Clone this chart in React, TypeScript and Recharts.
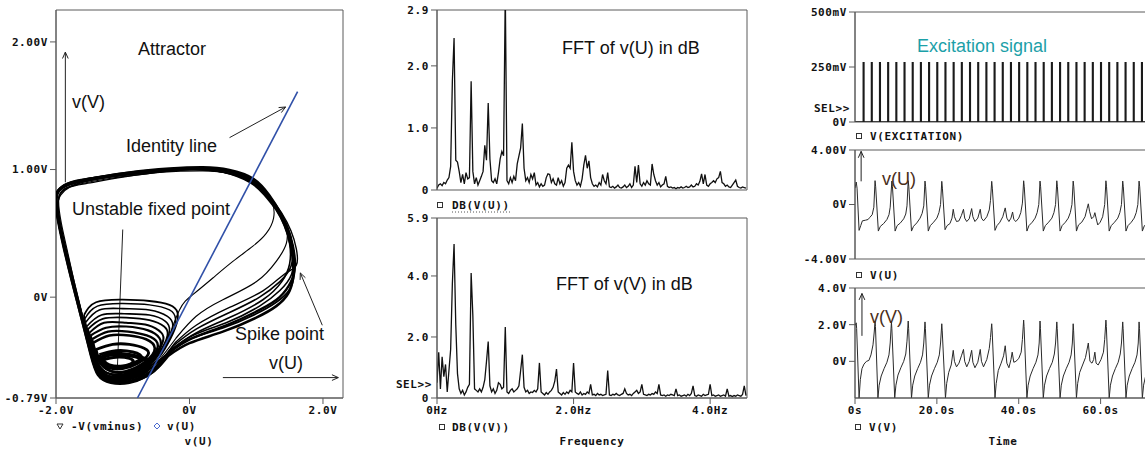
import React from "react";
import {
  ScatterChart, Scatter, LineChart, Line, XAxis, YAxis, ReferenceArea, ReferenceLine,
} from "recharts";

// ---------- attractor (phase portrait) ----------
const attrXTicks = [-2, 0, 2];
const attrXLabels = ["-2.0V", "0V", "2.0V"];
const attrYTicks = [-0.79, 0, 1, 2];
const attrYLabels = ["-0.79V", "0V", "1.00V", "2.00V"];

// spiking orbits (big loops)
const spikeLoopA = [[-0.3,-0.44],[0.0,-0.33],[0.5,-0.24],[1.0,-0.13],[1.3,-0.04],[1.5,0.06],[1.57,0.18],[1.57,0.3],[1.5,0.5],[1.37,0.66],[1.2,0.8],[0.96,0.93],[0.6,1.0],[0.2,1.02],[-0.3,1.01],[-0.9,0.98],[-1.5,0.93],[-1.83,0.89],[-1.97,0.84],[-2.0,0.76],[-1.95,0.55],[-1.83,0.3],[-1.68,0.0],[-1.52,-0.32],[-1.4,-0.56],[-1.3,-0.64],[-1.1,-0.66],[-0.84,-0.66],[-0.6,-0.61],[-0.45,-0.54],[-0.3,-0.44]];
const spikeLoopB = [[-0.25,-0.4],[0.1,-0.28],[0.6,-0.16],[1.1,-0.02],[1.38,0.12],[1.5,0.26],[1.5,0.42],[1.42,0.56],[1.3,0.68],[1.12,0.8],[0.9,0.9],[0.5,0.98],[0.1,1.0],[-0.5,0.98],[-1.1,0.95],[-1.6,0.9],[-1.85,0.85],[-1.96,0.78],[-1.95,0.62],[-1.85,0.38],[-1.72,0.1],[-1.58,-0.2],[-1.45,-0.48],[-1.35,-0.6],[-1.15,-0.64],[-0.9,-0.64],[-0.65,-0.58],[-0.45,-0.5],[-0.25,-0.4]];
const spikeLoopC = [[-0.2,-0.32],[0.1,-0.15],[0.5,-0.02],[1.0,0.12],[1.3,0.28],[1.45,0.42],[1.45,0.55],[1.35,0.66],[1.18,0.78],[0.95,0.89],[0.6,0.97],[0.2,0.99],[-0.4,0.98],[-1.0,0.94],[-1.55,0.89],[-1.8,0.86],[-1.93,0.8],[-1.97,0.7],[-1.9,0.48],[-1.78,0.2],[-1.64,-0.1],[-1.5,-0.4],[-1.4,-0.58],[-1.25,-0.64],[-1.0,-0.65],[-0.75,-0.62],[-0.5,-0.52],[-0.2,-0.32]];
const spikeLoopD = [[-0.28,-0.42],[0.05,-0.3],[0.55,-0.2],[1.05,-0.07],[1.35,0.05],[1.53,0.18],[1.56,0.35],[1.48,0.52],[1.35,0.66],[1.15,0.8],[0.92,0.91],[0.55,0.99],[0.0,1.01],[-0.7,0.98],[-1.3,0.94],[-1.75,0.9],[-1.94,0.85],[-2.0,0.78],[-1.97,0.62],[-1.87,0.38],[-1.75,0.12],[-1.6,-0.18],[-1.47,-0.45],[-1.36,-0.6],[-1.2,-0.65],[-0.95,-0.65],[-0.7,-0.6],[-0.5,-0.52],[-0.28,-0.42]];
const spikeLoopE = [[-0.22,-0.36],[0.1,-0.22],[0.6,-0.08],[1.1,0.05],[1.42,0.18],[1.6,0.25],[1.6,0.38],[1.52,0.52],[1.38,0.66],[1.2,0.79],[0.96,0.91],[0.6,0.99],[0.2,1.01],[-0.4,1.0],[-1.0,0.96],[-1.6,0.91],[-1.9,0.86],[-1.99,0.8],[-1.98,0.66],[-1.9,0.45],[-1.78,0.18],[-1.63,-0.12],[-1.5,-0.38],[-1.38,-0.58],[-1.22,-0.66],[-0.95,-0.67],[-0.7,-0.63],[-0.48,-0.53],[-0.22,-0.36]];
const spikeLoopF = [[-0.35,-0.38],[-0.15,-0.1],[0.05,0.02],[0.35,0.15],[0.65,0.28],[0.95,0.4],[1.15,0.5],[1.26,0.62],[1.24,0.74],[1.12,0.83],[0.9,0.92],[0.5,0.98],[0.0,1.0],[-0.6,0.97],[-1.2,0.93],[-1.7,0.88],[-1.9,0.84],[-1.96,0.76],[-1.92,0.58],[-1.82,0.34],[-1.7,0.06],[-1.56,-0.24],[-1.44,-0.5],[-1.32,-0.62],[-1.1,-0.65],[-0.8,-0.63],[-0.55,-0.54],[-0.35,-0.38]];
const spikeLoopG = [[-0.32,-0.46],[0.0,-0.36],[0.5,-0.27],[1.0,-0.16],[1.3,-0.07],[1.48,0.03],[1.55,0.15],[1.55,0.28],[1.49,0.47],[1.36,0.64],[1.19,0.79],[0.95,0.92],[0.58,0.99],[0.15,1.01],[-0.5,0.99],[-1.2,0.95],[-1.7,0.91],[-1.92,0.86],[-2.0,0.8],[-1.99,0.68],[-1.9,0.44],[-1.77,0.15],[-1.62,-0.16],[-1.48,-0.45],[-1.37,-0.61],[-1.18,-0.67],[-0.9,-0.67],[-0.65,-0.62],[-0.47,-0.55],[-0.32,-0.46]];
const spikeLoopH = [[-0.24,-0.38],[0.1,-0.25],[0.6,-0.12],[1.05,0.0],[1.35,0.12],[1.52,0.24],[1.54,0.4],[1.46,0.55],[1.33,0.67],[1.14,0.8],[0.9,0.91],[0.5,0.98],[0.0,1.0],[-0.6,0.98],[-1.2,0.94],[-1.65,0.9],[-1.88,0.86],[-1.98,0.79],[-1.96,0.64],[-1.88,0.42],[-1.76,0.14],[-1.61,-0.15],[-1.48,-0.43],[-1.37,-0.6],[-1.2,-0.66],[-0.95,-0.66],[-0.7,-0.62],[-0.48,-0.53],[-0.24,-0.38]];
const spikeLoopI = [[-0.3,-0.43],[0.05,-0.32],[0.55,-0.22],[1.05,-0.1],[1.35,0.0],[1.52,0.12],[1.58,0.25],[1.55,0.4],[1.47,0.54],[1.34,0.67],[1.16,0.8],[0.93,0.91],[0.55,0.99],[0.1,1.01],[-0.6,0.99],[-1.25,0.95],[-1.72,0.9],[-1.93,0.85],[-2.0,0.78],[-1.98,0.63],[-1.89,0.4],[-1.76,0.12],[-1.61,-0.18],[-1.47,-0.46],[-1.36,-0.61],[-1.19,-0.66],[-0.92,-0.66],[-0.67,-0.61],[-0.48,-0.54],[-0.3,-0.43]];

// subthreshold loops round the unstable fixed point
const smallLoop1 = [[-1.58,-0.14],[-1.4,-0.04],[-1.0,-0.02],[-0.6,-0.03],[-0.3,-0.06],[-0.18,-0.12],[-0.2,-0.22],[-0.32,-0.36],[-0.5,-0.5],[-0.75,-0.6],[-1.05,-0.65],[-1.3,-0.62],[-1.45,-0.45],[-1.55,-0.25],[-1.58,-0.14]];
const smallLoop2 = [[-1.56,-0.2],[-1.35,-0.1],[-1.0,-0.09],[-0.6,-0.1],[-0.33,-0.15],[-0.25,-0.22],[-0.32,-0.33],[-0.5,-0.47],[-0.75,-0.58],[-1.05,-0.63],[-1.3,-0.6],[-1.45,-0.44],[-1.56,-0.2]];
const smallLoop3 = [[-1.52,-0.25],[-1.3,-0.17],[-0.95,-0.16],[-0.6,-0.18],[-0.38,-0.23],[-0.33,-0.3],[-0.45,-0.43],[-0.7,-0.56],[-1.0,-0.62],[-1.28,-0.6],[-1.42,-0.46],[-1.52,-0.25]];
const smallLoop4 = [[-1.48,-0.3],[-1.25,-0.24],[-0.95,-0.23],[-0.62,-0.26],[-0.45,-0.32],[-0.45,-0.4],[-0.65,-0.53],[-0.95,-0.6],[-1.25,-0.59],[-1.4,-0.48],[-1.48,-0.3]];
const smallLoop5 = [[-1.45,-0.36],[-1.2,-0.3],[-0.9,-0.3],[-0.65,-0.33],[-0.52,-0.4],[-0.65,-0.5],[-0.95,-0.58],[-1.22,-0.57],[-1.38,-0.48],[-1.45,-0.36]];
const smallLoop6 = [[-1.4,-0.41],[-1.15,-0.37],[-0.9,-0.37],[-0.68,-0.4],[-0.62,-0.45],[-0.78,-0.52],[-1.0,-0.56],[-1.22,-0.55],[-1.35,-0.49],[-1.4,-0.41]];
const smallLoop7 = [[-1.35,-0.45],[-1.1,-0.42],[-0.85,-0.43],[-0.72,-0.47],[-0.85,-0.52],[-1.05,-0.55],[-1.25,-0.53],[-1.35,-0.45]];
const smallLoop8 = [[-1.3,-0.49],[-1.1,-0.47],[-0.9,-0.48],[-0.85,-0.51],[-1.0,-0.54],[-1.2,-0.53],[-1.3,-0.49]];
const smallLoop9 = [[-1.57,-0.17],[-1.38,-0.07],[-1.0,-0.05],[-0.6,-0.06],[-0.3,-0.1],[-0.21,-0.17],[-0.26,-0.28],[-0.42,-0.42],[-0.62,-0.55],[-0.9,-0.63],[-1.2,-0.64],[-1.4,-0.54],[-1.52,-0.32],[-1.57,-0.17]];
const smallLoop10 = [[-1.54,-0.23],[-1.32,-0.14],[-0.98,-0.13],[-0.6,-0.14],[-0.36,-0.19],[-0.3,-0.26],[-0.38,-0.38],[-0.6,-0.52],[-0.9,-0.61],[-1.2,-0.62],[-1.4,-0.52],[-1.54,-0.23]];
const smallLoop11 = [[-1.5,-0.28],[-1.28,-0.2],[-0.95,-0.2],[-0.62,-0.22],[-0.42,-0.28],[-0.4,-0.35],[-0.55,-0.48],[-0.85,-0.59],[-1.15,-0.61],[-1.38,-0.52],[-1.5,-0.28]];
const smallLoop12 = [[-1.46,-0.33],[-1.22,-0.27],[-0.92,-0.27],[-0.64,-0.3],[-0.48,-0.36],[-0.55,-0.46],[-0.82,-0.57],[-1.1,-0.59],[-1.33,-0.52],[-1.46,-0.33]];
const smallLoop13 = [[-1.42,-0.5],[-1.2,-0.45],[-0.95,-0.45],[-0.7,-0.48],[-0.6,-0.53],[-0.75,-0.6],[-1.0,-0.63],[-1.25,-0.62],[-1.42,-0.5]];

const identityLine = [[-0.78,-0.79],[1.62,1.61]];

// annotation arrows (data units)
const arrowVV = [[-1.86, 0.9], [-1.86, 1.92]];
const arrowVU = [[0.5, -0.63], [2.23, -0.63]];
const arrowIdentity = [[0.6, 1.25], [1.44, 1.49]];
const arrowFixed = [[-1.0, 0.53], [-1.08, -0.55]];
const arrowSpike = [[1.99, -0.22], [1.66, 0.19]];

// ---------- FFT spectra ----------
const FREQ_STEP = 0.025;
const freqTicks = [0, 2, 4];
const freqLabels = ["0Hz", "2.0Hz", "4.0Hz"];
const fftUTicks = [0, 1, 2, 2.9];
const fftULabels = ["0", "1.0", "2.0", "2.9"];
const fftVTicks = [0, 2, 4, 5.9];
const fftVLabels = ["0", "2.0", "4.0", "5.9"];

const fftU = [
  0.03,0.08,0.1,0.07,0.12,0.1,0.16,0.2,0.38,1.75, 2.45,0.48,0.45,0.3,0.12,0.25,0.1,0.28,0.18,0.2,
  1.75,0.3,0.1,0.2,0.08,0.15,0.22,0.3,0.72,0.48, 1.4,0.5,0.15,0.12,0.18,0.1,0.28,0.5,0.62,0.55,
  3.2,0.15,0.1,0.2,0.12,0.22,0.15,0.42,0.55,0.68, 1.07,0.35,0.15,0.2,0.12,0.25,0.18,0.28,0.08,0.12,
  0.05,0.1,0.06,0.08,0.2,0.26,0.25,0.12,0.18,0.1, 0.08,0.2,0.1,0.15,0.06,0.12,0.35,0.4,0.35,0.77,
  0.3,0.15,0.08,0.12,0.06,0.18,0.4,0.56,0.35,0.47, 0.2,0.1,0.06,0.08,0.05,0.12,0.08,0.25,0.15,0.1,
  0.28,0.05,0.04,0.06,0.03,0.05,0.08,0.04,0.03,0.05, 0.08,0.04,0.06,0.1,0.04,0.08,0.38,0.12,0.4,0.1,
  0.06,0.12,0.08,0.15,0.1,0.08,0.42,0.25,0.15,0.08, 0.12,0.05,0.08,0.1,0.22,0.06,0.04,0.05,0.03,0.04,
  0.02,0.04,0.03,0.05,0.03,0.04,0.06,0.04,0.05,0.08, 0.05,0.06,0.1,0.08,0.14,0.26,0.1,0.25,0.08,0.06,
  0.1,0.12,0.15,0.12,0.18,0.2,0.3,0.12,0.1,0.06, 0.08,0.05,0.04,0.08,0.12,0.16,0.06,0.04,0.03,0.05,
  0.04,0.03,
];

const fftV = [
  0.5,1.5,0.3,1.35,0.7,1.1,0.2,0.9,1.6,3.75, 5.05,2.4,0.8,0.3,0.15,0.25,0.1,0.2,0.35,0.45,
  4.1,2.7,0.3,0.25,0.2,0.3,0.2,0.35,0.6,1.2, 1.85,0.4,0.2,0.3,0.15,0.25,0.5,0.45,0.3,0.35,
  2.33,0.2,0.15,0.25,0.3,0.2,0.25,0.3,0.4,0.9, 1.42,0.35,0.2,0.25,0.15,0.2,0.18,0.25,0.2,0.3,
  1.15,0.2,0.15,0.1,0.18,0.12,0.2,0.25,0.35,0.55, 0.95,0.2,0.15,0.1,0.18,0.12,0.2,0.15,0.25,0.2,
  1.15,0.2,0.15,0.12,0.2,0.1,0.15,0.12,0.2,0.15, 0.45,0.1,0.12,0.08,0.15,0.1,0.12,0.08,0.1,0.12,
  0.9,0.1,0.08,0.12,0.1,0.15,0.1,0.08,0.12,0.15, 0.3,0.15,0.1,0.12,0.08,0.15,0.2,0.25,0.15,0.2,
  0.45,0.12,0.1,0.08,0.12,0.1,0.15,0.12,0.2,0.15, 0.45,0.1,0.08,0.1,0.06,0.1,0.08,0.12,0.1,0.08,
  0.3,0.08,0.1,0.06,0.08,0.1,0.06,0.12,0.08,0.15, 0.4,0.08,0.06,0.1,0.08,0.06,0.12,0.08,0.1,0.12,
  0.45,0.08,0.1,0.06,0.08,0.1,0.06,0.08,0.1,0.06, 0.3,0.06,0.08,0.05,0.08,0.06,0.1,0.08,0.06,0.12,
  0.4,0.08,
];

// ---------- time series ----------
const timeTicks = [0, 20, 40, 60];
const timeLabels = ["0s", "20.0s", "40.0s", "60.0s"];
const excTicks = [0, 0.25, 0.5];
const excLabels = ["0V", "250mV", "500mV"];
const vUTicks = [-4, 0, 4];
const vULabels = ["-4.00V", "0V", "4.00V"];
const vVTicks = [0, 2, 4];
const vVLabels = ["0V", "2.0V", "4.0V"];

const pulseTimes = [2,4,6,8,10,12,14,16,18,20,22,24,26,28,30,32,34,36,38,40,42,44,46,48,50,52,54,56,58,60,62,64,66,68,70];
const PULSE_HIGH = 0.27;
const PULSE_WIDTH = 0.2;

const vUPoints = [
  [0,1.2],[0.3,1.65],[0.5,1.2],[1.0,-1.9],[1.4,-1.55],[1.8,-1.2],[2.6,-1.15],[3.2,-1.1],[3.6,-0.95],[4.2,-0.75],[4.6,-0.2],[4.9,1.75],[5.05,1.3],[5.7,-1.95],
  [6.2,-1.6],[7.0,-1.4],[7.8,-1.1],[8.3,-0.75],[8.6,-0.2],[9.0,1.72],[9.15,1.3],[9.8,-1.95],
  [10.3,-1.55],[11.1,-1.35],[11.9,-1.05],[12.4,-0.7],[12.7,-0.1],[13.0,1.75],[13.15,1.3],[13.8,-1.95],
  [14.3,-1.6],[15.1,-1.35],[15.9,-1.0],[16.4,-0.65],[16.8,-0.1],[17.1,1.72],[17.25,1.3],[17.9,-1.95],
  [18.4,-1.55],[19.2,-1.3],[20.0,-1.0],[20.5,-0.6],[20.9,0.0],[21.2,1.7],[21.35,1.2],[22.0,-1.85],
  [22.5,-1.55],[23.2,-1.4],[23.7,-1.0],[24.0,-0.35],[24.3,-0.9],[24.8,-1.25],[25.4,-1.2],[26.0,-0.8],[26.5,-0.35],[26.8,-1.0],[27.3,-1.25],[27.9,-1.05],[28.5,-0.3],[28.8,-0.9],[29.3,-1.25],[30.0,-1.0],[30.6,-0.35],[30.9,-1.0],[31.4,-1.2],[32.2,-0.9],[32.8,-0.4],[33.1,0.3],[33.4,1.7],[33.55,1.2],[34.2,-1.9],
  [34.7,-1.55],[35.4,-1.3],[36.1,-0.9],[36.7,-0.25],[37.1,-1.0],[37.6,-1.25],[38.1,-1.0],[38.5,-0.55],[38.8,-1.1],[39.3,-1.25],[40.0,-1.0],[40.5,-0.6],[40.9,0.1],[41.2,1.74],[41.35,1.3],[42.0,-1.95],
  [42.5,-1.55],[43.3,-1.3],[44.0,-1.0],[44.5,-0.6],[44.9,0.0],[45.2,1.72],[45.35,1.3],[46.0,-1.95],
  [46.5,-1.55],[47.3,-1.3],[48.1,-1.0],[48.6,-0.6],[49.0,0.0],[49.3,1.74],[49.45,1.3],[50.1,-1.95],
  [50.6,-1.55],[51.4,-1.3],[52.1,-1.0],[52.6,-0.6],[53.0,0.0],[53.3,1.72],[53.45,1.3],[54.1,-1.95],
  [54.6,-1.5],[55.4,-1.3],[56.2,-0.9],[56.7,-0.3],[57.0,0.05],[57.3,-0.5],[57.8,-1.05],[58.3,-0.9],[58.6,-0.6],[58.9,-1.0],[59.3,-1.5],[59.9,-1.3],[60.5,-0.9],[61.0,0.0],[61.3,1.74],[61.45,1.3],[62.1,-1.95],
  [62.6,-1.55],[63.4,-1.3],[64.2,-1.0],[64.7,-0.6],[65.1,0.0],[65.4,1.72],[65.55,1.3],[66.2,-1.95],
  [66.7,-1.55],[67.5,-1.3],[68.2,-1.0],[68.7,-0.6],[69.1,0.0],[69.4,1.72],[69.55,1.3],[70.2,-1.95],
  [70.7,-1.55],[71.5,-1.35],[72.3,-1.1],
];

const vVPoints = [
  [0,1.95],[0.3,2.1],[0.4,1.8],[1.0,-2.0],[1.3,-1.0],[1.7,-0.4],[2.2,-0.15],[2.8,0.0],[3.4,0.05],[3.9,0.35],[4.4,0.9],[4.7,1.6],[4.9,2.2],[5.0,1.9],[5.6,-2.0],
  [5.9,-1.3],[6.4,-0.8],[7.1,-0.4],[7.8,-0.05],[8.3,0.35],[8.6,1.0],[8.9,2.15],[9.0,1.8],[9.7,-2.0],
  [10.0,-1.3],[10.5,-0.75],[11.2,-0.35],[11.9,0.0],[12.4,0.4],[12.7,1.1],[13.0,2.2],[13.1,1.8],[13.8,-2.0],
  [14.1,-1.3],[14.6,-0.8],[15.3,-0.4],[16.0,-0.05],[16.5,0.35],[16.8,1.0],[17.1,2.15],[17.2,1.8],[17.9,-2.0],
  [18.2,-1.3],[18.7,-0.8],[19.4,-0.4],[20.1,-0.05],[20.6,0.35],[20.9,1.0],[21.2,2.05],[21.3,1.7],[22.1,-2.0],
  [22.4,-1.2],[22.9,-0.6],[23.5,-0.2],[24.0,0.6],[24.3,0.0],[24.8,-0.3],[25.4,-0.1],[26.0,0.3],[26.5,0.65],[26.8,0.0],[27.3,-0.3],[27.9,0.0],[28.5,0.6],[28.8,-0.05],[29.3,-0.35],[30.0,-0.05],[30.6,0.65],[30.9,0.0],[31.4,-0.3],[32.2,0.1],[32.8,0.7],[33.1,1.3],[33.4,2.05],[33.5,1.7],[34.2,-2.0],
  [34.5,-1.2],[35.0,-0.5],[35.7,-0.1],[36.3,0.3],[36.7,0.85],[37.1,-0.1],[37.6,-0.35],[38.1,0.1],[38.4,0.5],[38.8,-0.05],[39.3,0.0],[40.0,0.15],[40.6,0.5],[40.9,1.2],[41.2,2.25],[41.3,1.9],[42.0,-2.0],
  [42.3,-1.3],[42.8,-0.8],[43.5,-0.4],[44.2,-0.05],[44.7,0.35],[45.0,1.0],[45.2,2.2],[45.3,1.8],[46.0,-2.0],
  [46.3,-1.3],[46.8,-0.8],[47.5,-0.4],[48.2,-0.05],[48.7,0.4],[49.0,1.0],[49.3,2.15],[49.4,1.8],[50.1,-2.0],
  [50.4,-1.3],[50.9,-0.8],[51.6,-0.4],[52.3,-0.05],[52.8,0.35],[53.1,1.0],[53.3,2.05],[53.4,1.7],[54.1,-2.0],
  [54.4,-1.2],[54.9,-0.6],[55.6,-0.2],[56.3,0.2],[57.0,1.0],[57.4,0.0],[57.9,-0.1],[58.3,0.1],[58.6,0.5],[58.9,-0.1],[59.4,-0.2],[60.1,0.1],[60.7,0.5],[61.0,1.2],[61.3,2.25],[61.4,1.9],[62.1,-2.0],
  [62.4,-1.3],[62.9,-0.8],[63.6,-0.4],[64.3,-0.05],[64.8,0.4],[65.1,1.0],[65.4,2.15],[65.5,1.8],[66.2,-2.0],
  [66.5,-1.3],[67.0,-0.8],[67.7,-0.4],[68.4,-0.05],[68.9,0.35],[69.2,1.0],[69.4,2.15],[69.5,1.8],[70.2,-2.0],
  [70.5,-1.3],[71.0,-0.8],[71.7,-0.45],[72.4,-0.15],
];

const arrowPanelU = [[1.5, 1.7], [1.5, 3.9]];
const arrowPanelV = [[1.7, 1.39], [1.7, 3.7]];

// ---------- helpers ----------
const MONO = "'DejaVu Sans Mono', monospace";
const SANS = "'Liberation Sans', Arial, sans-serif";
const tickStyle = { fontFamily: MONO, fontSize: 11, fontWeight: 700, fill: "#111", letterSpacing: 0.6 };
const frame = "#5a5a5a";

const toXY = (pts: number[][]) => pts.map(([x, y]) => ({ x, y }));
const fmt = (ticks: number[], labels: string[]) => (v: number) => {
  const i = ticks.indexOf(v);
  return i >= 0 ? labels[i] : "";
};
const seg = (pts: number[][]) => pts.map(([x, y]) => ({ x, y }));
const EmptyShape = () => <g />;

const arrowShape = (head: boolean) => (p: any) => {
  const { x1, y1, x2, y2 } = p;
  if (x1 == null) return <g />;
  const a = Math.atan2(y2 - y1, x2 - x1);
  const L = 7;
  const w = 0.42;
  const h1x = x2 - L * Math.cos(a - w), h1y = y2 - L * Math.sin(a - w);
  const h2x = x2 - L * Math.cos(a + w), h2y = y2 - L * Math.sin(a + w);
  return (
    <g>
      <line x1={x1} y1={y1} x2={x2} y2={y2} stroke="#222" strokeWidth={1} />
      {head && <path d={`M${h1x},${h1y} L${x2},${y2} L${h2x},${h2y}`} fill="none" stroke="#222" strokeWidth={1} />}
    </g>
  );
};

const spikeLoops = [spikeLoopA, spikeLoopB, spikeLoopC, spikeLoopD, spikeLoopE, spikeLoopF, spikeLoopG, spikeLoopH, spikeLoopI];
const spikeWidths = [1.8, 1.6, 1.2, 1.6, 1.4, 1.1, 2.6, 1.6, 2.4];
const smallLoops = [smallLoop1, smallLoop9, smallLoop2, smallLoop10, smallLoop3, smallLoop11, smallLoop4, smallLoop12, smallLoop5, smallLoop6, smallLoop7, smallLoop8, smallLoop13];
const smallWidths = [1.8, 1.4, 1.6, 1.6, 1.8, 2.0, 2.2, 2.4, 2.6, 2.8, 3.0, 3.0, 4.5];

const fftUData = fftU.map((v, i) => ({ f: i * FREQ_STEP, v }));
const fftVData = fftV.map((v, i) => ({ f: i * FREQ_STEP, v }));
const excData = [
  { t: 0, v: 0 },
  ...pulseTimes.flatMap((p) => [
    { t: p, v: 0 }, { t: p, v: PULSE_HIGH }, { t: p + PULSE_WIDTH, v: PULSE_HIGH }, { t: p + PULSE_WIDTH, v: 0 },
  ]),
  { t: 75, v: 0 },
];
const vUData = vUPoints.map(([t, v]) => ({ t, v }));
const vVData = vVPoints.map(([t, v]) => ({ t, v }));

const T_DOMAIN: [number, number] = [0, 75];

const Square = ({ x, y }: { x: number; y: number }) => (
  <rect x={x - 2.5} y={y - 2.5} width={5} height={5} fill="none" stroke="#333" strokeWidth={1} />
);

const Attractor = () => (
  <ScatterChart width={380} height={450} margin={{ top: 10, right: 37, bottom: 32, left: 6 }}>
    <XAxis type="number" dataKey="x" domain={[-2, 2.3]} ticks={attrXTicks} tickFormatter={fmt(attrXTicks, attrXLabels)}
      allowDataOverflow height={20} tick={tickStyle} tickSize={6} axisLine={{ stroke: frame }} tickLine={{ stroke: frame }} />
    <YAxis type="number" dataKey="y" domain={[-0.79, 2.25]} ticks={attrYTicks} tickFormatter={fmt(attrYTicks, attrYLabels)}
      allowDataOverflow width={50} tick={tickStyle} tickSize={6} axisLine={{ stroke: frame }} tickLine={{ stroke: frame }} />
    <ReferenceArea x1={-2} x2={2.3} y1={-0.79} y2={2.25} fill="none" stroke={frame} strokeWidth={1} ifOverflow="visible" />
    {spikeLoops.map((l, i) => (
      <Scatter key={`s${i}`} data={toXY(l)} line={{ stroke: "#000", strokeWidth: spikeWidths[i] }}
        lineJointType="natural" shape={EmptyShape} isAnimationActive={false} />
    ))}
    {smallLoops.map((l, i) => (
      <Scatter key={`m${i}`} data={toXY(l)} line={{ stroke: "#000", strokeWidth: smallWidths[i] }}
        lineJointType="natural" shape={EmptyShape} isAnimationActive={false} />
    ))}
    <Scatter data={toXY(identityLine)} line={{ stroke: "#3050a8", strokeWidth: 1.6 }} shape={EmptyShape} isAnimationActive={false} />
    <ReferenceLine segment={seg(arrowVV)} ifOverflow="visible" shape={arrowShape(true)} />
    <ReferenceLine segment={seg(arrowVU)} ifOverflow="visible" shape={arrowShape(true)} />
    <ReferenceLine segment={seg(arrowIdentity)} ifOverflow="visible" shape={arrowShape(true)} />
    <ReferenceLine segment={seg(arrowFixed)} ifOverflow="visible" shape={arrowShape(false)} />
    <ReferenceLine segment={seg(arrowSpike)} ifOverflow="visible" shape={arrowShape(true)} />
  </ScatterChart>
);

const FftTop = () => (
  <LineChart width={380} height={220} data={fftUData} margin={{ top: 10, right: 13, bottom: 30, left: 12 }}>
    <XAxis type="number" dataKey="f" domain={[0, 4.54]} allowDataOverflow hide />
    <YAxis type="number" domain={[0, 2.9]} ticks={fftUTicks} tickFormatter={fmt(fftUTicks, fftULabels)} allowDataOverflow
      width={45} tick={tickStyle} tickSize={6} axisLine={{ stroke: frame }} tickLine={{ stroke: frame }} />
    <ReferenceArea x1={0} x2={4.54} y1={0} y2={2.9} fill="none" stroke={frame} ifOverflow="visible" />
    <Line type="linear" dataKey="v" stroke="#111" strokeWidth={1.3} dot={false} isAnimationActive={false} />
  </LineChart>
);

const FftBottom = () => (
  <LineChart width={380} height={250} data={fftVData} margin={{ top: 18, right: 13, bottom: 32, left: 12 }}>
    <XAxis type="number" dataKey="f" domain={[0, 4.54]} ticks={freqTicks} tickFormatter={fmt(freqTicks, freqLabels)} allowDataOverflow
      height={20} tick={tickStyle} tickSize={6} axisLine={{ stroke: frame }} tickLine={{ stroke: frame }} />
    <YAxis type="number" domain={[0, 5.9]} ticks={fftVTicks} tickFormatter={fmt(fftVTicks, fftVLabels)} allowDataOverflow
      width={45} tick={tickStyle} tickSize={6} axisLine={{ stroke: frame }} tickLine={{ stroke: frame }} />
    <ReferenceArea x1={0} x2={4.54} y1={0} y2={5.9} fill="none" stroke={frame} ifOverflow="visible" />
    <Line type="linear" dataKey="v" stroke="#111" strokeWidth={1.3} dot={false} isAnimationActive={false} />
  </LineChart>
);

const Excitation = () => (
  <LineChart width={372} height={140} data={excData} margin={{ top: 12, right: 0, bottom: 18, left: 10 }}>
    <XAxis type="number" dataKey="t" domain={T_DOMAIN} allowDataOverflow hide />
    <YAxis type="number" domain={[0, 0.5]} ticks={excTicks} tickFormatter={fmt(excTicks, excLabels)} allowDataOverflow
      width={55} tick={tickStyle} tickSize={6} axisLine={{ stroke: frame }} tickLine={{ stroke: frame }} />
    <ReferenceArea x1={0} x2={75} y1={0} y2={0.5} fill="none" stroke={frame} ifOverflow="visible" />
    <Line type="linear" dataKey="v" stroke="#1a1a1a" strokeWidth={1.3} dot={false} isAnimationActive={false} />
  </LineChart>
);

const VUPanel = () => (
  <LineChart width={372} height={140} data={vUData} margin={{ top: 10, right: 0, bottom: 21, left: 10 }}>
    <XAxis type="number" dataKey="t" domain={T_DOMAIN} allowDataOverflow hide />
    <YAxis type="number" domain={[-4, 4]} ticks={vUTicks} tickFormatter={fmt(vUTicks, vULabels)} allowDataOverflow
      width={55} tick={tickStyle} tickSize={6} axisLine={{ stroke: frame }} tickLine={{ stroke: frame }} />
    <ReferenceArea x1={0} x2={75} y1={-4} y2={4} fill="none" stroke={frame} ifOverflow="visible" />
    <Line type="linear" dataKey="v" stroke="#2a2a2a" strokeWidth={1} dot={false} isAnimationActive={false} />
    <ReferenceLine segment={seg(arrowPanelU)} ifOverflow="visible" shape={arrowShape(true)} />
  </LineChart>
);

const VVPanel = () => (
  <LineChart width={372} height={170} data={vVData} margin={{ top: 8, right: 0, bottom: 32, left: 10 }}>
    <XAxis type="number" dataKey="t" domain={T_DOMAIN} ticks={timeTicks} tickFormatter={fmt(timeTicks, timeLabels)} allowDataOverflow
      height={20} tick={tickStyle} tickSize={6} axisLine={{ stroke: frame }} tickLine={{ stroke: frame }} />
    <YAxis type="number" domain={[-2, 4]} ticks={vVTicks} tickFormatter={fmt(vVTicks, vVLabels)} allowDataOverflow
      width={55} tick={tickStyle} tickSize={6} axisLine={{ stroke: frame }} tickLine={{ stroke: frame }} />
    <ReferenceArea x1={0} x2={75} y1={-2} y2={4} fill="none" stroke={frame} ifOverflow="visible" />
    <Line type="linear" dataKey="v" stroke="#2a2a2a" strokeWidth={1} dot={false} isAnimationActive={false} />
    <ReferenceLine segment={seg(arrowPanelV)} ifOverflow="visible" shape={arrowShape(true)} />
  </LineChart>
);

const monoText = { fontFamily: MONO, fontSize: 11, fontWeight: 700, fill: "#111", letterSpacing: 0.6 } as const;
const annText = { fontFamily: SANS, fontSize: 18, fill: "#111" } as const;

const Overlay = () => (
  <svg width={1145} height={450} style={{ position: "absolute", left: 0, top: 0, pointerEvents: "none" }}>
    {/* attractor */}
    <text x={172} y={55} textAnchor="middle" {...annText}>Attractor</text>
    <text x={72} y={108} {...annText}>v(V)</text>
    <text x={126} y={152} {...annText}>Identity line</text>
    <text x={72} y={215} {...annText}>Unstable fixed point</text>
    <text x={235} y={340} {...annText}>Spike point</text>
    <text x={269} y={369} {...annText}>v(U)</text>
    <path d="M57,424 L63,424 L60,429 Z" fill="none" stroke="#333" strokeWidth={1} />
    <text x={71} y={430} {...monoText}>-V(vminus)</text>
    <path d="M157,423 L160,426 L157,429 L154,426 Z" fill="none" stroke="#4a6ad0" strokeWidth={1} />
    <text x={167} y={430} {...monoText}>v(U)</text>
    <text x={199} y={445} textAnchor="middle" {...monoText}>v(U)</text>

    {/* FFT */}
    <text x={562} y={54} {...annText}>FFT of v(U) in dB</text>
    <Square x={440} y={205} />
    <text x={452} y={209} {...monoText}>DB(V(U))</text>
    <line x1={452} y1={212} x2={511} y2={212} stroke="#555" strokeDasharray="1 2" />
    <text x={556} y={290} {...annText}>FFT of v(V) in dB</text>
    <text x={432} y={388} textAnchor="end" {...monoText}>SEL&gt;&gt;</text>
    <Square x={442} y={427} />
    <text x={452} y={431} {...monoText}>DB(V(V))</text>
    <text x={592} y={445} textAnchor="middle" {...monoText}>Frequency</text>

    {/* time panels */}
    <text x={917} y={52} fontFamily={SANS} fontSize={18} fill="#1ba0a8">Excitation signal</text>
    <text x={850} y={112} textAnchor="end" {...monoText}>SEL&gt;&gt;</text>
    <Square x={859} y={136} />
    <text x={870} y={140} {...monoText}>V(EXCITATION)</text>
    <text x={882} y={185} fontFamily={SANS} fontSize={18} fill="#4a2e1a">v(U)</text>
    <Square x={859} y={275} />
    <text x={870} y={279} {...monoText}>V(U)</text>
    <text x={870} y={323} fontFamily={SANS} fontSize={18} fill="#4a2e1a">v(V)</text>
    <Square x={858} y={427} />
    <text x={869} y={431} {...monoText}>V(V)</text>
    <text x={1003} y={445} textAnchor="middle" {...monoText}>Time</text>
  </svg>
);

export default function App() {
  return (
    <div style={{ position: "absolute", left: 0, top: 0, width: 1145, height: 450, overflow: "hidden", background: "#fff" }}>
      <div style={{ position: "absolute", left: 0, top: 0 }}><Attractor /></div>
      <div style={{ position: "absolute", left: 380, top: 0 }}><FftTop /></div>
      <div style={{ position: "absolute", left: 380, top: 200 }}><FftBottom /></div>
      <div style={{ position: "absolute", left: 790, top: 0 }}><Excitation /></div>
      <div style={{ position: "absolute", left: 790, top: 140 }}><VUPanel /></div>
      <div style={{ position: "absolute", left: 790, top: 280 }}><VVPanel /></div>
      <Overlay />
    </div>
  );
}
